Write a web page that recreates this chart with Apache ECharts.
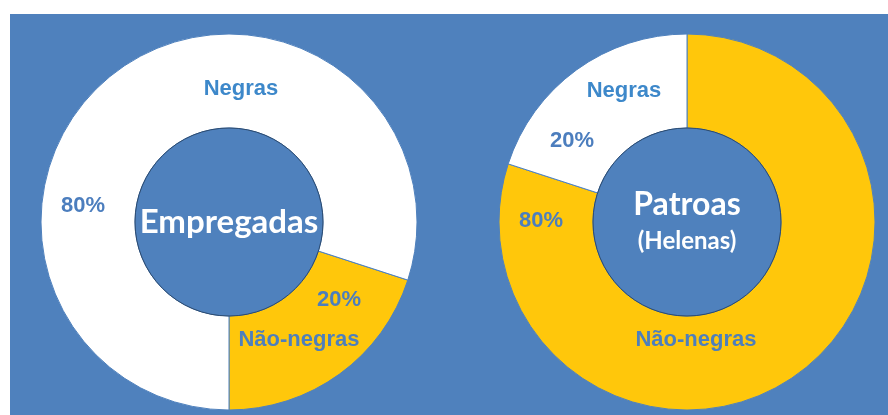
<!DOCTYPE html>
<html>
<head>
<meta charset="utf-8">
<script src="https://cdn.jsdelivr.net/npm/echarts@6/dist/echarts.min.js"></script>
<style>
html,body{margin:0;padding:0;background:#fff;}
#chart{width:888px;height:415px;}
</style>
</head>
<body>
<div id="chart"></div>
<script>
// ---- data ----
const categories = ['Não-negras', 'Negras'];
const empregadasValues = [20, 80];
const patroasValues = [80, 20];
const centerTitles = ['Empregadas', 'Patroas'];
const centerSubtitles = ['', '(Helenas)'];

// ---- style ----
const BG = '#4F81BD';
const YELLOW = '#FFC70B';
const WHITE = '#FFFFFF';
const sliceColors = { 'Não-negras': YELLOW, 'Negras': WHITE };
const nameColors = { 'Não-negras': '#4E7FBC', 'Negras': '#3D88CA' };
const pctColor = '#4C7EBE';
const centers = [[229, 222], [687, 222]];
const R_OUT = 188, R_IN = 94;
const FONT = 'Liberation Sans, Arial, sans-serif';
const CFONT = 'Lato, "Open Sans", sans-serif';

// label offsets relative to donut center (layout only)
const nameOffsets = [
  { 'Negras': [12, -133], 'Não-negras': [70, 118] },
  { 'Negras': [-63, -131], 'Não-negras': [9, 118] }
];
const pctOffsets = [
  { 'Negras': [-146, -16], 'Não-negras': [110, 78] },
  { 'Negras': [-115, -81], 'Não-negras': [-146, -1] }
];

const valueSets = [empregadasValues, patroasValues];
function share(vals, name) {
  const tot = vals.reduce((a, b) => a + b, 0);
  return vals[categories.indexOf(name)] / tot;
}
const startAngles = [-90 + 360 * share(empregadasValues, 'Não-negras'), 90];

function makeData(vals, colored) {
  return categories.map((c, i) => ({ name: c, value: vals[i], itemStyle: { color: colored ? sliceColors[c] : 'rgba(0,0,0,0)' } }));
}

const series = [];
valueSets.forEach((vals, k) => {
  const c = centers[k];
  // slices + name labels
  series.push({
    type: 'pie', center: c, radius: [R_IN, R_OUT], startAngle: startAngles[k], clockwise: true,
    animation: false, silent: true,
    itemStyle: { borderColor: BG, borderWidth: 1 },
    label: {
      show: true, position: 'inside', fontFamily: FONT, fontWeight: 'bold', fontSize: 22,
      formatter: p => p.name
    },
    labelLine: { show: false },
    labelLayout: p => {
      const o = nameOffsets[k][p.text] || [0, 0];
      return { x: c[0] + o[0], y: c[1] + o[1], align: 'center', verticalAlign: 'middle' };
    },
    data: makeData(vals, true).map(d => Object.assign(d, { label: { color: nameColors[d.name] } }))
  });
  // percentage labels (transparent overlay)
  series.push({
    type: 'pie', center: c, radius: [R_IN, R_OUT], startAngle: startAngles[k], clockwise: true,
    animation: false, silent: true,
    itemStyle: { borderWidth: 0 },
    label: {
      show: true, position: 'inside', fontFamily: FONT, fontWeight: 'bold', fontSize: 22, color: pctColor,
      formatter: p => p.value + '%'
    },
    labelLine: { show: false },
    labelLayout: p => {
      const name = categories[p.dataIndex];
      const o = pctOffsets[k][name];
      return { x: c[0] + o[0], y: c[1] + o[1], align: 'center', verticalAlign: 'middle' };
    },
    data: makeData(vals, false)
  });
  // inner circle with title
  series.push({
    type: 'pie', center: c, radius: [0, R_IN], animation: false, silent: true,
    itemStyle: { color: BG, borderColor: '#2C4A6E', borderWidth: 1 },
    label: {
      show: true, position: 'center',
      formatter: () => centerSubtitles[k] ? '{t|' + centerTitles[k] + '}\n{s|' + centerSubtitles[k] + '}' : '{e|' + centerTitles[k] + '}',
      rich: {
        e: { fontFamily: CFONT, fontWeight: 'bold', fontSize: 33, color: '#fff' },
        t: { fontFamily: CFONT, fontWeight: 'bold', fontSize: 32, color: '#fff', lineHeight: 38 },
        s: { fontFamily: CFONT, fontWeight: 'bold', fontSize: 24, color: '#fff', lineHeight: 34 }
      }
    },
    labelLine: { show: false },
    data: [{ name: centerTitles[k], value: 1 }]
  });
});

const chart = echarts.init(document.getElementById('chart'), null, { renderer: 'canvas' });
chart.setOption({
  backgroundColor: '#fff',
  animation: false,
  graphic: [{ type: 'rect', z: -10, silent: true, shape: { x: 10, y: 14, width: 878, height: 401 }, style: { fill: BG } }],
  series: series
});
</script>
</body>
</html>
